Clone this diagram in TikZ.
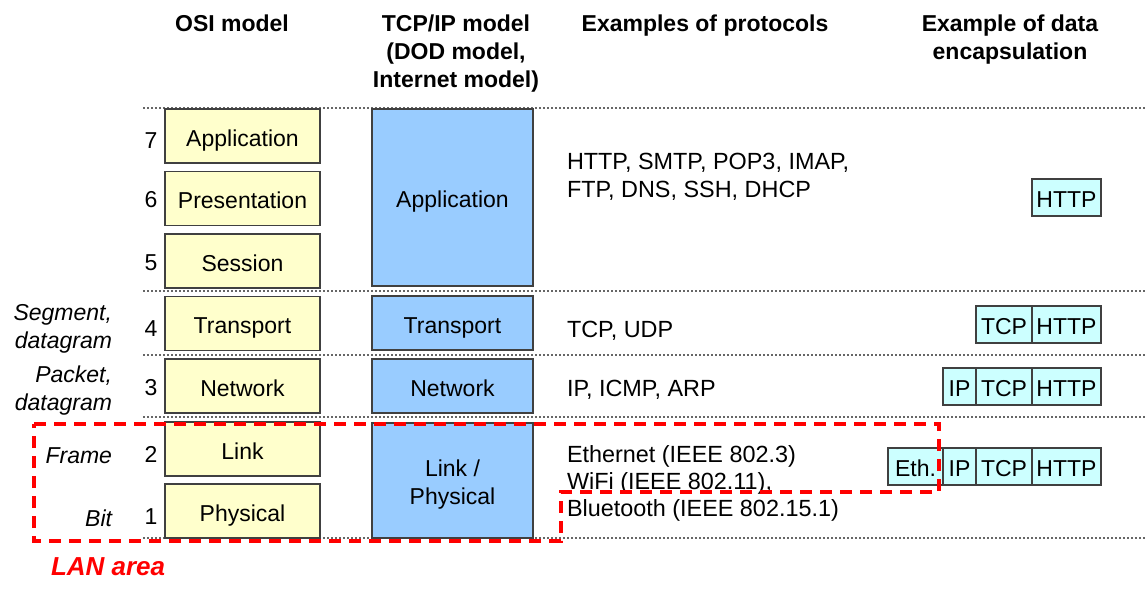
\documentclass[tikz,border=0pt]{standalone}
\usepackage{fontspec}
\setmainfont{Liberation Sans}
\definecolor{osiyellow}{HTML}{FFFFCC}
\definecolor{tcpblue}{HTML}{99CCFF}
\definecolor{encapcyan}{HTML}{CCFFFF}
\definecolor{lanred}{HTML}{FF0000}
\begin{document}
\begin{tikzpicture}[x=1pt,y=-1pt,
  every node/.style={font=\fontsize{23}{28}\selectfont, inner sep=0pt, outer sep=0pt},
  boxline/.style={draw=black!75, line width=1.3pt, text height=20pt, text depth=0pt},
  osibox/.style={boxline, fill=osiyellow, minimum width=155pt, minimum height=54pt, anchor=north west},
  tcpbox/.style={boxline, fill=tcpblue, minimum width=161pt, anchor=north west, align=center},
  encbox/.style={boxline, fill=encapcyan, minimum height=37pt, anchor=east},
  header/.style={font=\fontsize{23}{28}\selectfont\bfseries, align=center, anchor=north},
  num/.style={anchor=base},
  pdu/.style={font=\fontsize{23}{28}\selectfont\itshape, anchor=base east},
  proto/.style={font=\fontsize{23.4}{28}\selectfont, anchor=base west},
  sep/.style={draw=black!60, line width=1.2pt, dash pattern=on 2pt off 2pt},
  lan/.style={draw=lanred, line width=4pt, dash pattern=on 12pt off 8pt},
]
\useasboundingbox (0,0) rectangle (1147,594);

% separators
\foreach \yy in {108,291,355,417,538}
  \draw[sep] (143,\yy) -- (1147,\yy);

% headers
\node[header] (hosi) at (232,15) {OSI model};
\node[header] (htcp) at (456,15) {TCP/IP model\\(DOD model,\\Internet model)};
\node[header] (hproto) at (705,15) {Examples of protocols};
\node[header] (henc) at (1010,15) {Example of data\\encapsulation};

% OSI layers
\node[osibox] (osi7) at (165,109) {Application};
\node[osibox] (osi6) at (165,171.5) {Presentation};
\node[osibox] (osi5) at (165,234) {Session};
\node[osibox] (osi4) at (165,296.5) {Transport};
\node[osibox] (osi3) at (165,359) {Network};
\node[osibox] (osi2) at (165,422) {Link};
\node[osibox] (osi1) at (165,484) {Physical};

% numbers
\node[num] (n7) at (151,148) {7};
\node[num] (n6) at (151,207) {6};
\node[num] (n5) at (151,270) {5};
\node[num] (n4) at (151,336) {4};
\node[num] (n3) at (151,395) {3};
\node[num] (n2) at (151,462) {2};
\node[num] (n1) at (151,524) {1};

% PDU labels
\node[pdu] (pseg) at (112,320) {Segment,};
\node[pdu] (pseg2) at (112,348) {datagram};
\node[pdu] (ppkt) at (112,382) {Packet,};
\node[pdu] (ppkt2) at (112,410) {datagram};
\node[pdu] (pframe) at (112,463) {Frame};
\node[pdu] (pbit) at (112,526) {Bit};

% TCP/IP layers
\node[tcpbox, minimum height=177pt] (tcp4) at (372,109) {Application};
\node[tcpbox, minimum height=54pt] (tcp3) at (372,296) {Transport};
\node[tcpbox, minimum height=54pt] (tcp2) at (372,359) {Network};
\node[tcpbox, minimum height=115pt, text height=47pt] (tcp1) at (372,423) {Link /\\Physical};

% protocols
\node[proto] (pr1) at (567,169) {HTTP, SMTP, POP3, IMAP,};
\node[proto] (pr2) at (567,197) {FTP, DNS, SSH, DHCP};
\node[proto] (pr3) at (567,337) {TCP, UDP};
\node[proto] (pr4) at (567,396) {IP, ICMP, ARP};
\node[proto] (pr5) at (567,462) {Ethernet (IEEE 802.3)};
\node[proto] (pr6) at (567,489) {WiFi (IEEE 802.11),};
\node[proto] (pr7) at (567,516) {Bluetooth (IEEE 802.15.1)};

% encapsulation
\node[encbox, minimum width=69pt] (e1http) at (1101,197.5) {HTTP};

\node[encbox, minimum width=69pt] (e2http) at (1101,324.5) {HTTP};
\node[encbox, minimum width=56pt] (e2tcp) at (e2http.west) {TCP};

\node[encbox, minimum width=69pt] (e3http) at (1101,386.5) {HTTP};
\node[encbox, minimum width=56pt] (e3tcp) at (e3http.west) {TCP};
\node[encbox, minimum width=33pt] (e3ip) at (e3tcp.west) {IP};

\node[encbox, minimum width=69pt] (e4http) at (1101,466.5) {HTTP};
\node[encbox, minimum width=56pt] (e4tcp) at (e4http.west) {TCP};
\node[encbox, minimum width=33pt] (e4ip) at (e4tcp.west) {IP};
\node[encbox, minimum width=55pt] (e4eth) at (e4ip.west) {Eth.};

% LAN area
\draw[lan] (34,424) -- (939,424) -- (939,492) -- (561,492) -- (561,541) -- (34,541) -- cycle;
\node[font=\fontsize{26}{30}\selectfont\bfseries\itshape, text=lanred, anchor=base west] (lanlabel) at (51,575) {LAN area};
\end{tikzpicture}
\end{document}
